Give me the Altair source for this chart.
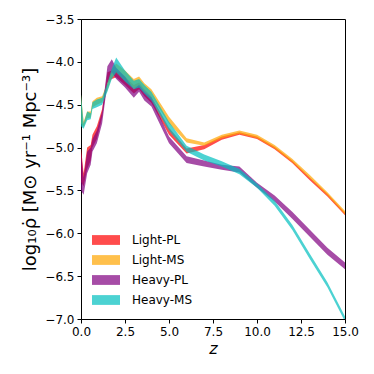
import altair as alt
import pandas as pd

z = [0, 0.15, 0.35, 0.55, 0.65, 0.9, 1.2, 1.5, 1.75, 2.0, 2.5, 3.0, 3.3, 3.6, 4.0,
     5.0, 6.0, 7.0, 8.0, 9.0, 10.0, 11.0, 12.0, 13.0, 14.0, 15.0]

light_pl_lo = [-5.4, -5.45, -5.25, -5.15, -5.0, -4.9, -4.65, -4.25, -4.2, -4.18, -4.27, -4.37, -4.32, -4.4, -4.48,
               -4.85, -5.07, -5.02, -4.91, -4.85, -4.9, -5.02, -5.18, -5.38, -5.57, -5.79]
light_pl_hi = [-5.0, -5.3, -5.0, -4.97, -4.85, -4.75, -4.55, -4.12, -4.1, -4.1, -4.17, -4.27, -4.24, -4.32, -4.4,
               -4.77, -5.01, -4.97, -4.87, -4.82, -4.87, -4.99, -5.15, -5.35, -5.54, -5.76]

light_ms_lo = [-4.72, -4.76, -4.66, -4.65, -4.53, -4.5, -4.47, -4.33, -4.18, -4.14, -4.22, -4.3, -4.27, -4.33, -4.4,
               -4.72, -4.94, -4.98, -4.89, -4.84, -4.89, -5.01, -5.17, -5.36, -5.56, -5.78]
light_ms_hi = [-4.38, -4.7, -4.58, -4.58, -4.46, -4.42, -4.4, -4.24, -4.08, -4.02, -4.1, -4.2, -4.17, -4.25, -4.32,
               -4.64, -4.89, -4.94, -4.85, -4.8, -4.85, -4.97, -5.13, -5.32, -5.52, -5.74]

heavy_pl_lo = [-5.5, -5.55, -5.3, -5.2, -5.05, -4.95, -4.72, -4.25, -4.12, -4.2, -4.3, -4.42, -4.35, -4.45, -4.52,
               -4.95, -5.18, -5.22, -5.26, -5.29, -5.47, -5.63, -5.83, -6.04, -6.25, -6.42]
heavy_pl_hi = [-5.05, -5.35, -5.05, -5.0, -4.9, -4.8, -4.58, -4.05, -3.97, -4.07, -4.17, -4.32, -4.27, -4.35, -4.42,
               -4.87, -5.1, -5.15, -5.2, -5.22, -5.41, -5.56, -5.75, -5.96, -6.17, -6.34]

heavy_ms_lo = [-4.75, -4.78, -4.68, -4.67, -4.55, -4.53, -4.5, -4.35, -4.2, -4.12, -4.23, -4.32, -4.3, -4.37, -4.45,
               -4.8, -5.05, -5.15, -5.22, -5.31, -5.47, -5.68, -5.96, -6.3, -6.63, -7.03]
heavy_ms_hi = [-4.38, -4.72, -4.58, -4.6, -4.47, -4.44, -4.42, -4.25, -4.08, -3.95, -4.1, -4.22, -4.2, -4.27, -4.35,
               -4.7, -4.98, -5.08, -5.16, -5.25, -5.42, -5.62, -5.9, -6.24, -6.57, -6.97]

names = ["Light-PL", "Light-MS", "Heavy-PL", "Heavy-MS"]
colors = ["#ff0000", "#ffa500", "#800080", "#00bfbf"]
series = {
    "Light-PL": (light_pl_lo, light_pl_hi),
    "Light-MS": (light_ms_lo, light_ms_hi),
    "Heavy-PL": (heavy_pl_lo, heavy_pl_hi),
    "Heavy-MS": (heavy_ms_lo, heavy_ms_hi),
}

rows = []
for n in names:
    lo, hi = series[n]
    for zi, a, b in zip(z, lo, hi):
        rows.append({"z": zi, "lo": a, "hi": b, "model": n})
df = pd.DataFrame(rows)

minus = "replace(format(datum.value, '.1f'), '-', '\u2212')"

xenc = alt.X("z:Q", scale=alt.Scale(domain=[0, 15], nice=False),
             axis=alt.Axis(title="z", values=[0, 2.5, 5, 7.5, 10, 12.5, 15], labelExpr=minus,
                           labelFlush=False, labelOverlap=False,
                           titleFontStyle="italic", titleFontWeight="normal", titleFontSize=16,
                           titlePadding=3))
yenc = alt.Y("lo:Q", scale=alt.Scale(domain=[-7, -3.5], nice=False),
             axis=alt.Axis(title="log\u2081\u2080\u03c1\u0307 [M\u2299  yr\u207b\u00b9  Mpc\u207b\u00b3]",
                           values=[-7, -6.5, -6, -5.5, -5, -4.5, -4, -3.5], labelExpr=minus,
                           labelFlush=False, labelOverlap=False,
                           titleFontWeight="normal", titleFontSize=18, titlePadding=5))
cenc = alt.Color("model:N", scale=alt.Scale(domain=names, range=colors),
                 legend=alt.Legend(title=None, orient="none", legendX=18, legendY=214,
                                   symbolType="M-2,-0.7H2V0.7H-2Z", symbolSize=196,
                                   symbolOpacity=0.7, symbolStrokeWidth=0,
                                   labelOffset=19, labelFontSize=12, rowPadding=7,
                                   labelColor="black"))

layers = []
for n in names:
    layers.append(
        alt.Chart(df).transform_filter(alt.datum.model == n)
        .mark_area(opacity=0.7, clip=True)
        .encode(x=xenc, y=yenc, y2="hi:Q", color=cenc)
    )

chart = alt.layer(*layers).properties(
    width=264, height=300,
    autosize=alt.AutoSizeParams(type="none"),
    padding={"left": 73, "top": 11, "right": 21, "bottom": 47},
).configure_view(stroke="black", strokeWidth=1).configure_axis(
    grid=False, domainColor="black", tickColor="black", labelColor="black",
    titleColor="black", tickSize=4, labelFontSize=12, labelFont="DejaVu Sans",
    titleFont="DejaVu Sans", labelPadding=3
).configure_legend(labelFont="DejaVu Sans")

chart.save("out.html", embed_options={"renderer": "svg", "actions": False})
